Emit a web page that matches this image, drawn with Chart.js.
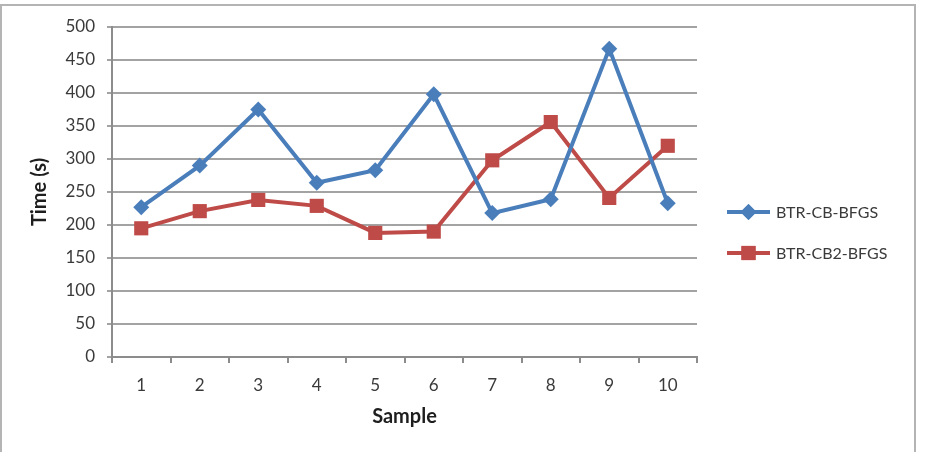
<!DOCTYPE html>
<html>
<head>
<meta charset="utf-8">
<script src="https://cdn.jsdelivr.net/npm/chart.js@4/dist/chart.umd.min.js"></script>
<style>
body{margin:0;background:#fff;}
#wrap{position:relative;width:925px;height:452px;overflow:hidden;}
#frame{position:absolute;left:0;top:4px;width:916px;height:470px;border:2px solid #b4b4b4;box-sizing:border-box;}
canvas{position:absolute;left:0;top:0;}
</style>
</head>
<body>
<div id="wrap">
<div id="frame"></div>
<canvas id="chart" width="925" height="452"></canvas>
</div>
<script>
const samples = ["1","2","3","4","5","6","7","8","9","10"];
const cbBfgs = [227, 290, 375, 264, 283, 398, 218, 239, 467, 233];
const cb2Bfgs = [195, 221, 238, 229, 188, 190, 298, 356, 241, 320];

const FONT = "Lato, 'Open Sans', sans-serif";

// legend like excel: line with marker in the middle
const sideLegend = {
id: "sideLegend",
afterDraw(chart){
const ctx = chart.ctx;
const rows = [212, 253];
chart.data.datasets.forEach((ds, i) => {
let y = rows[i];
ctx.save();
ctx.strokeStyle = ds.borderColor;
ctx.lineWidth = 4;
ctx.beginPath();
ctx.moveTo(727, y);
ctx.lineTo(770, y);
ctx.stroke();
ctx.fillStyle = ds.borderColor;
Chart.helpers.drawPoint(ctx, {pointStyle: ds.pointStyle, radius: ds.pointRadius, rotation: 0, borderWidth: 0}, 748.5, y);
ctx.fill();
ctx.fillStyle = "#3a3a3a";
ctx.font = "16px " + FONT;
ctx.textBaseline = "middle";
ctx.fillText(ds.label, 776, y + 1);
ctx.restore();
});
}
};

new Chart(document.getElementById("chart"), {
type: "line",
data: {
labels: samples,
datasets: [
{
label: "BTR-CB-BFGS",
data: cbBfgs,
borderColor: "#4A7EBB",
backgroundColor: "#4A7EBB",
borderWidth: 4,
pointStyle: "rectRot",
pointRadius: 8,
pointBorderWidth: 0,
tension: 0
},
{
label: "BTR-CB2-BFGS",
data: cb2Bfgs,
borderColor: "#BE4B48",
backgroundColor: "#BE4B48",
borderWidth: 4,
pointStyle: "rect",
pointRadius: 10,
pointBorderWidth: 0,
tension: 0
}
]
},
options: {
responsive: false,
animation: false,
layout: {padding: {top: 27, right: 228, left: 0, bottom: 0}},
plugins: {legend: {display: false}, tooltip: {enabled: false}},
scales: {
x: {
offset: true,
afterFit: s => { s.height = 95; },
grid: {offset: true, drawOnChartArea: false, tickLength: 6, color: "#8c8c8c", lineWidth: 2},
border: {color: "#8c8c8c", width: 2},
ticks: {padding: 12, color: "#3a3a3a", font: {family: FONT, size: 17}, maxRotation: 0},
title: {display: true, text: "Sample", color: "#1e1e1e", font: {family: FONT, size: 20, weight: "bold"}, padding: {top: 0, bottom: 23}}
},
y: {
min: 0,
max: 500,
afterFit: s => { s.width = 112; },
grid: {color: "#a3a3a3", lineWidth: 2, tickLength: 5},
border: {color: "#8c8c8c", width: 2},
ticks: {stepSize: 50, padding: 12, color: "#3a3a3a", font: {family: FONT, size: 17}},
title: {display: true, text: "Time (s)", color: "#1e1e1e", font: {family: FONT, size: 20, weight: "bold"}, padding: {top: 28, bottom: 0}}
}
}
},
plugins: [sideLegend]
});
</script>
</body>
</html>
